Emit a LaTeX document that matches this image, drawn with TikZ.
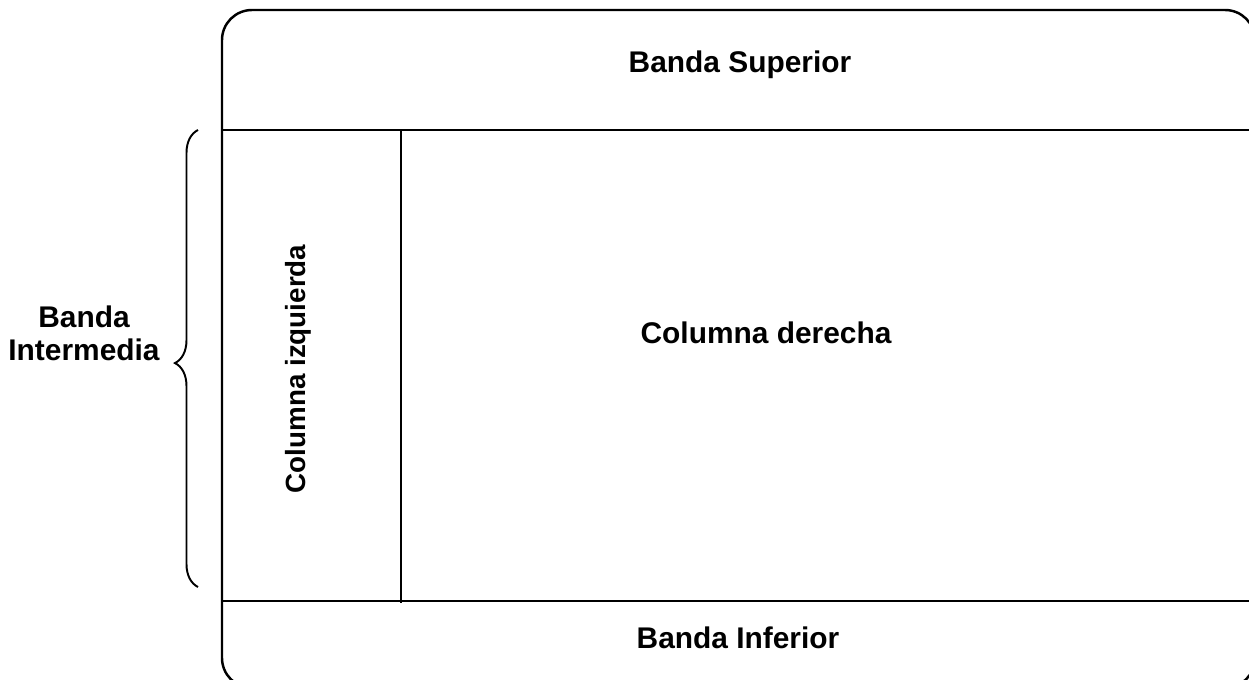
\documentclass[tikz,border=0pt]{standalone}
\usepackage{fontspec}
\setmainfont{Liberation Sans}
\usetikzlibrary{positioning,decorations.pathreplacing}

\begin{document}
\begin{tikzpicture}[
    x=0.01cm, y=-0.01cm,
    label/.style={font=\fontsize{8.5}{9.4}\selectfont\bfseries, align=center, inner sep=0pt, anchor=base},
    frame/.style={draw, line width=0.7pt, rounded corners=0.3cm},
    rule/.style={draw, line width=0.7pt},
    bracket/.style={draw, line width=0.55pt, decorate, decoration={brace, amplitude=0.23cm, aspect=0.49}}
]
\useasboundingbox (0,0) rectangle (1249,679);
\clip (0,0) rectangle (1249,679);

% page frame and bands
\draw[frame] (222,10) rectangle (1255,688);
\coordinate (topL) at (222,130);
\coordinate (topR) at (1255,130);
\coordinate (botL) at (222,601);
\coordinate (botR) at (1255,601);
\coordinate (colT) at (401,130);
\coordinate (colB) at (401,603);
\draw[rule] (topL) -- (topR);
\draw[rule] (botL) -- (botR);
\draw[rule] (colT) -- (colB);

% labels
\node[label] (sup) at (740,73) {Banda Superior};
\node[label] (der) at (766,343) {Columna derecha};
\node[label] (inf) at (738,648) {Banda Inferior};
\node[label, font=\fontsize{7.9}{9}\selectfont\bfseries, rotate=90] (izq) at (305,369) {Columna izquierda};
\node[label, anchor=center] (mid) at (84,333) {Banda\\Intermedia};

% brace for the middle band
\coordinate (brB) at (198,587);
\coordinate (brT) at (198,130);
\draw[bracket] (brB) -- (brT);
\end{tikzpicture}
\end{document}
